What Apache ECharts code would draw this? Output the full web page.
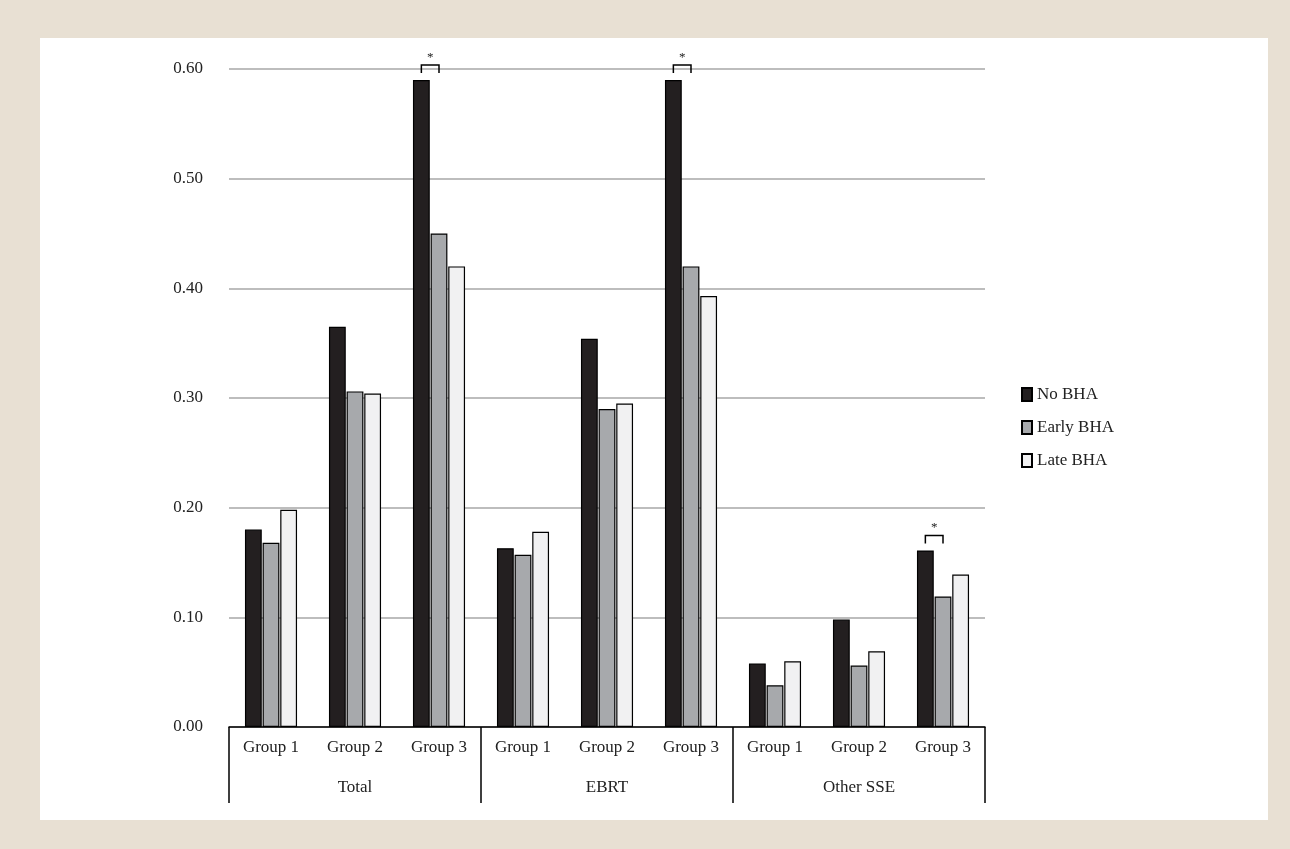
<!DOCTYPE html>
<html>
<head>
<meta charset="utf-8">
<script src="https://cdn.jsdelivr.net/npm/echarts@6/dist/echarts.min.js"></script>
<style>
  html, body { margin: 0; padding: 0; background: #e8e0d3; }
  #chart { position: absolute; left: 40px; top: 38px; width: 1228px; height: 782px; background: #fff; }
</style>
</head>
<body>
<div id="chart"></div>
<script>
const groups = ["Total", "EBRT", "Other SSE"];
const subGroups = ["Group 1", "Group 2", "Group 3", "Group 1", "Group 2", "Group 3", "Group 1", "Group 2", "Group 3"];
const noBHA = [0.180, 0.365, 0.590, 0.163, 0.354, 0.590, 0.058, 0.098, 0.161];
const earlyBHA = [0.168, 0.306, 0.450, 0.157, 0.290, 0.420, 0.038, 0.056, 0.119];
const lateBHA = [0.198, 0.304, 0.420, 0.178, 0.295, 0.393, 0.060, 0.069, 0.139];
// significance brackets between No BHA and Early BHA: [category index, bar top]
const brackets = [[2, 0.590], [5, 0.590], [8, 0.161]];

const font = "Liberation Serif";
const chart = echarts.init(document.getElementById("chart"));

function barStyle(color) {
  return { color: color, borderColor: "#000", borderWidth: 1.2 };
}

chart.setOption({
  animation: false,
  textStyle: { fontFamily: font },
  grid: { left: 189, right: 283, top: 31, bottom: 93 },
  legend: {
    orient: "vertical",
    left: 976, top: 343,
    icon: "rect",
    itemWidth: 10, itemHeight: 13, itemGap: 16,
    textStyle: { fontFamily: font, fontSize: 17, color: "#222" },
    data: ["No BHA", "Early BHA", "Late BHA"]
  },
  xAxis: [
    {
      type: "category", data: subGroups,
      axisLine: { lineStyle: { color: "#000", width: 1.5 } },
      axisTick: { show: false },
      axisLabel: { fontFamily: font, fontSize: 17, color: "#222", margin: 12 }
    },
    {
      type: "category", data: groups, position: "bottom",
      axisLine: { show: false },
      axisTick: { show: true, alignWithLabel: false, length: 76, lineStyle: { color: "#000", width: 1.5 } },
      axisLabel: { fontFamily: font, fontSize: 17, color: "#222", margin: 52 }
    }
  ],
  yAxis: {
    type: "value", min: 0, max: 0.6, interval: 0.1,
    axisLine: { show: false }, axisTick: { show: false },
    axisLabel: { fontFamily: font, fontSize: 17, color: "#222", margin: 26, formatter: v => v.toFixed(2) },
    splitLine: { lineStyle: { color: "#bdbdbd", width: 2 } }
  },
  series: [
    { name: "No BHA", type: "bar", data: noBHA, barWidth: "20%", barGap: "5%", itemStyle: barStyle("#231f20") },
    { name: "Early BHA", type: "bar", data: earlyBHA, barWidth: "20%", barGap: "5%", itemStyle: barStyle("#a7a9ac") },
    { name: "Late BHA", type: "bar", data: lateBHA, barWidth: "20%", barGap: "5%", itemStyle: barStyle("#f1f1f2") },
    {
      type: "custom", data: brackets, z: 10,
      renderItem: function (params, api) {
        const c = api.coord([api.value(0), api.value(1)]);
        const w = api.size([1, 0])[0];
        const step = w * 0.21;
        const x0 = c[0] - step, x1 = c[0];
        const y = c[1] - 15;
        return {
          type: "group",
          children: [
            { type: "polyline", shape: { points: [[x0, y + 8], [x0, y], [x1, y], [x1, y + 8]] },
              style: { stroke: "#000", lineWidth: 1.5, fill: null } },
            { type: "text", style: { text: "*", x: (x0 + x1) / 2, y: y - 1, textAlign: "center", textVerticalAlign: "bottom",
              fontFamily: font, fontSize: 13, fill: "#222" } }
          ]
        };
      }
    }
  ]
});
</script>
</body>
</html>
